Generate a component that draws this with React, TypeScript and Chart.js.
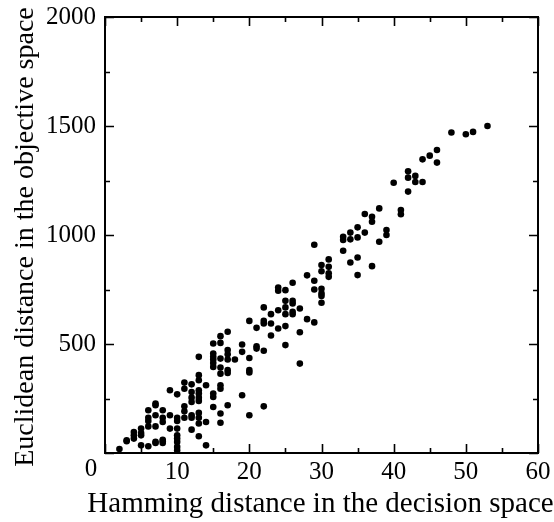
import React, { useEffect, useRef } from "react";
import { Chart, registerables } from "chart.js";

Chart.register(...registerables);

const hamming = [
  2,
  3, 3,
  4, 4, 4,
  5, 5, 5, 5,
  6, 6, 6, 6, 6,
  7, 7, 7, 7, 7, 7,
  8, 8, 8, 8, 8, 8,
  9, 9, 9,
  10, 10, 10, 10, 10, 10, 10, 10, 10,
  11, 11, 11, 11, 11,
  12, 12, 12, 12, 12, 12, 12,
  13, 13, 13, 13, 13, 13, 13, 13, 13, 13, 13,
  14, 14, 14,
  15, 15, 15, 15, 15, 15, 15, 15, 15,
  16, 16, 16, 16, 16, 16, 16, 16, 16,
  17, 17, 17, 17, 17, 17, 17,
  18,
  19, 19, 19,
  20, 20, 20, 20, 20,
  21, 21, 21,
  22, 22, 22, 22, 22,
  23, 23, 23,
  24, 24, 24, 24,
  25, 25, 25, 25, 25, 25,
  26, 26, 26, 26, 26,
  27, 27, 27,
  28, 28,
  29, 29, 29, 29,
  30, 30, 30, 30, 30, 30,
  31, 31, 31, 31,
  33, 33, 33,
  34, 34, 34,
  35, 35, 35, 35,
  36, 36,
  37, 37, 37,
  38, 38,
  39, 39,
  40,
  41, 41,
  42, 42, 42,
  43, 43,
  44, 44,
  45,
  46, 46,
  48,
  50,
  51,
  53,
];

const euclidean = [
  18,
  58, 54,
  96, 81, 66,
  112, 92, 81, 35,
  196, 162, 147, 122, 31,
  227, 219, 173, 122, 51, 46,
  196, 162, 142, 61, 54, 46,
  288, 173, 112,
  269, 162, 147, 112, 81, 66, 51, 28, 12,
  323, 295, 214, 191, 162,
  315, 280, 254, 234, 173, 162, 107,
  441, 357, 334, 288, 273, 254, 239, 184, 162, 135, 77,
  311, 142, 35,
  502, 456, 441, 429, 413, 395, 273, 257, 211,
  536, 505, 433, 392, 364, 311, 295, 181, 139,
  556, 472, 453, 429, 380, 367, 219,
  429,
  498, 464, 265,
  606, 436, 380, 369, 173,
  574, 490, 479,
  668, 606, 594, 469, 214,
  637, 594, 539,
  759, 744, 655, 571,
  747, 698, 668, 637, 582, 495,
  781, 698, 686, 648, 637,
  663, 554, 410,
  815, 614,
  955, 790, 750, 599,
  862, 834, 753, 732, 720, 689,
  888, 854, 824, 808,
  992, 977, 928,
  1011, 980, 874,
  1035, 989, 897, 816,
  1096, 1011,
  1084, 1061, 857,
  1122, 969,
  1023, 1000,
  1240,
  1115, 1095,
  1292, 1263, 1199,
  1271, 1243,
  1347, 1243,
  1364,
  1390, 1332,
  1470,
  1462,
  1473,
  1500,
];

const xMajorTicks = [0, 10, 20, 30, 40, 50, 60];
const xMinorTicks = [5, 15, 25, 35, 45, 55];
const yMajorTicks = [0, 500, 1000, 1500, 2000];
const yMinorTicks = [250, 750, 1250, 1750];

const xTitle = "Hamming distance in the decision space";
const yTitle = "Euclidean distance in the objective space";

const FONT = "'Liberation Serif', 'Times New Roman', Times, serif";

const framePlugin = {
  id: "frameTicks",
  afterDraw(chart: any) {
    const { ctx, chartArea } = chart;
    const xs = chart.scales.x;
    const ys = chart.scales.y;
    const { left, right, top, bottom } = chartArea;
    ctx.save();
    ctx.strokeStyle = "#000";
    ctx.lineWidth = 1.6;
    ctx.beginPath();
    const major = 9;
    const minor = 5;
    xMajorTicks.concat(xMinorTicks).forEach((v) => {
      const len = xMajorTicks.includes(v) ? major : minor;
      const px = Math.round(xs.getPixelForValue(v)) + 0.5;
      ctx.moveTo(px, bottom);
      ctx.lineTo(px, bottom - len);
      ctx.moveTo(px, top);
      ctx.lineTo(px, top + len);
    });
    yMajorTicks.concat(yMinorTicks).forEach((v) => {
      const len = yMajorTicks.includes(v) ? major : minor;
      const py = Math.round(ys.getPixelForValue(v)) + 0.5;
      ctx.moveTo(left, py);
      ctx.lineTo(left + len, py);
      ctx.moveTo(right, py);
      ctx.lineTo(right - len, py);
    });
    ctx.stroke();
    ctx.lineWidth = 2;
    ctx.strokeRect(left, top, right - left, bottom - top);

    ctx.fillStyle = "#000";
    // corner "0" label
    ctx.font = `25px ${FONT}`;
    ctx.textAlign = "center";
    ctx.textBaseline = "middle";
    ctx.fillText("0", left - 14, bottom + 16);

    // axis titles (drawn without width compression)
    ctx.textBaseline = "alphabetic";
    ctx.font = `29px ${FONT}`;
    ctx.fillText(xTitle, (left + right) / 2 - 1, bottom + 59);

    ctx.font = `28px ${FONT}`;
    ctx.translate(left - 72, (top + bottom) / 2 + 2);
    ctx.rotate(-Math.PI / 2);
    ctx.fillText(yTitle, 0, 0);
    ctx.restore();
  },
};

export default function App() {
  const canvasRef = useRef<HTMLCanvasElement | null>(null);

  useEffect(() => {
    if (!canvasRef.current) return;
    const points = hamming.map((h, i) => ({ x: h, y: euclidean[i] }));
    const chart = new Chart(canvasRef.current, {
      type: "scatter",
      data: {
        datasets: [
          {
            data: points,
            backgroundColor: "#000",
            borderColor: "#000",
            pointRadius: 3.3,
            pointHoverRadius: 3.3,
            borderWidth: 0,
            clip: 0,
          } as any,
        ],
      },
      options: {
        animation: false,
        responsive: false,
        maintainAspectRatio: false,
        layout: { padding: { left: 0, right: 16, top: 17, bottom: 0 } },
        plugins: {
          legend: { display: false },
          tooltip: { enabled: false },
        },
        scales: {
          x: {
            type: "linear",
            min: 0,
            max: 60,
            afterBuildTicks: (scale: any) => {
              scale.ticks = xMajorTicks.map((v) => ({ value: v }));
            },
            afterFit: (scale: any) => {
              scale.height = 69;
              scale.paddingLeft = 0;
              scale.paddingRight = 0;
            },
            grid: { display: false, drawTicks: false },
            border: { display: false },
            ticks: {
              color: "#000",
              font: { family: FONT, size: 25 },
              padding: 4,
              maxRotation: 0,
              autoSkip: false,
              callback: (v: any) => (Number(v) === 0 ? "" : String(v)),
            },
            title: { display: false },
          },
          y: {
            type: "linear",
            min: 0,
            max: 2000,
            afterBuildTicks: (scale: any) => {
              scale.ticks = yMajorTicks.map((v) => ({ value: v }));
            },
            afterFit: (scale: any) => {
              scale.width = 105;
              scale.paddingTop = 0;
              scale.paddingBottom = 0;
            },
            grid: { display: false, drawTicks: false },
            border: { display: false },
            ticks: {
              color: "#000",
              font: { family: FONT, size: 25 },
              padding: 9,
              autoSkip: false,
              callback: (v: any) => (Number(v) === 0 ? "" : String(v)),
            },
            title: { display: false },
          },
        },
      },
      plugins: [framePlugin],
    });
    return () => chart.destroy();
  }, []);

  return (
    <div style={{ position: "absolute", left: 0, top: 0, width: 554, height: 522, background: "#fff" }}>
      <canvas ref={canvasRef} width={554} height={522} style={{ width: 554, height: 522 }} />
    </div>
  );
}
